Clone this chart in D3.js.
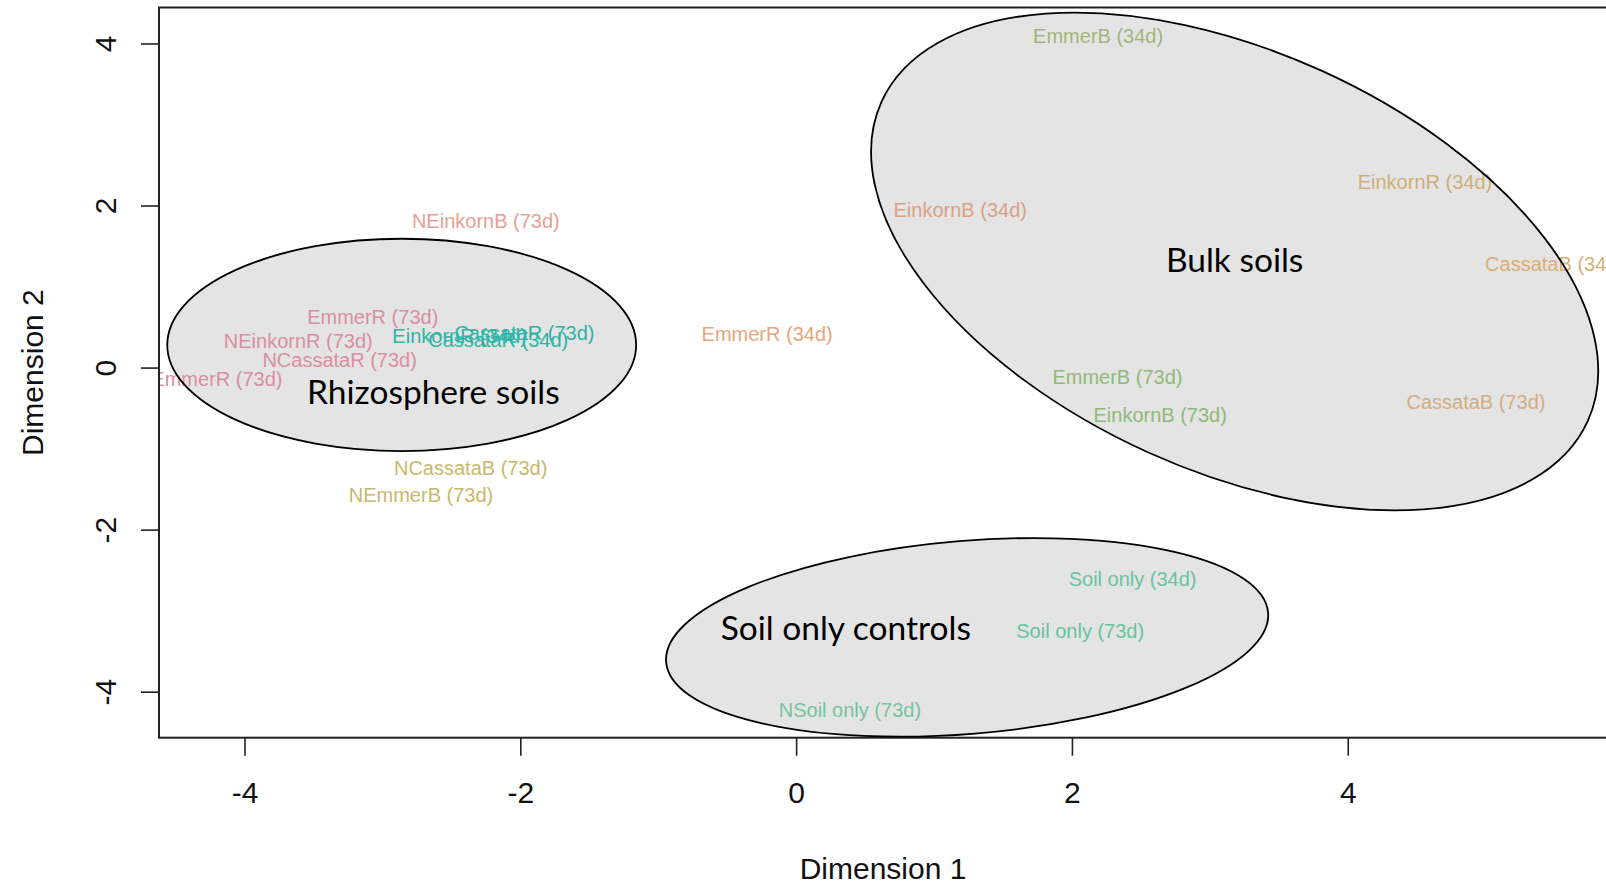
<!DOCTYPE html>
<html>
<head>
<meta charset="utf-8">
<script src="https://cdn.jsdelivr.net/npm/d3@7"></script>
<style>
  html, body { margin: 0; padding: 0; background: #ffffff; }
  svg { display: block; }
</style>
</head>
<body>
<svg id="chart" width="1606" height="886"></svg>
<script>
// MDS ordination of soil samples: sample labels and their coordinates
const sampleNames = [
  "NEinkornB (73d)", "EmmerR (73d)", "NEinkornR (73d)", "NCassataR (73d)", "EmmerR (73d) ",
  "EinkornR (34d)", "CassataR (73d)", "CassataR (34d)", "NCassataB (73d)", "NEmmerB (73d)",
  "EmmerR (34d)", "EinkornB (34d)", "EmmerB (34d)", "EinkornR (34d) ", "CassataB (34d)",
  "EmmerB (73d)", "EinkornB (73d)", "CassataB (73d)", "Soil only (34d)", "Soil only (73d)",
  "NSoil only (73d)"
];
const dim1 = [
  -2.25, -3.07, -3.61, -3.31, -4.20,
  -2.44, -1.97, -2.16, -2.36, -2.72,
  -0.21, 1.19, 2.19, 4.56, 5.50,
  2.33, 2.64, 4.93, 2.44, 2.06,
  0.39
];
const dim2 = [
  1.81, 0.63, 0.33, 0.10, -0.14,
  0.39, 0.43, 0.34, -1.24, -1.57,
  0.42, 1.95, 4.10, 2.29, 1.28,
  -0.11, -0.58, -0.42, -2.61, -3.25,
  -4.22
];
// treatment group of each sample (drives label colour)
const sampleGroups = [
  "NB-Einkorn", "R73", "R73", "R73", "R73",
  "R34", "R34", "R34", "NB", "NB",
  "R34-Emmer", "B34-Einkorn", "B34-Emmer", "R34-Einkorn", "B34-Cassata",
  "B73", "B73", "B73-Cassata", "Soil", "Soil",
  "NSoil"
];

// Axis ticks
const xTicks = [-4, -2, 0, 2, 4];
const yTicks = [-4, -2, 0, 2, 4];

// Cluster outlines (centre in plot units, semi-axes in Dimension 1 units, tilt in degrees)
const clusterNames = ["Rhizosphere soils", "Bulk soils", "Soil only controls"];
const clusterCx = [-2.86, 3.18, 1.24];
const clusterCy = [0.28, 1.31, -3.33];
const clusterA = [1.70, 2.81, 2.19];
const clusterB = [0.77, 1.52, 0.70];
const clusterTilt = [0, 24.3, -4.7];
const clusterLabelX = [-2.63, 3.18, 0.36];
const clusterLabelY = [-0.30, 1.32, -3.22];

const svg = d3.select("#chart");
const box = { left: 159, right: 1607, top: 7.5, bottom: 737.7 };

const x = d3.scaleLinear().domain([-4.62, 5.88]).range([box.left, box.right]);
const y = d3.scaleLinear().domain([-4.568, 4.444]).range([box.bottom, box.top]);
const unitPx = x(1) - x(0);

const groupColour = d3.scaleOrdinal()
  .domain(["NB-Einkorn", "R73", "R34", "NB", "R34-Emmer", "B34-Einkorn", "B34-Emmer",
           "R34-Einkorn", "B34-Cassata", "B73", "B73-Cassata", "Soil", "NSoil"])
  .range(["#e8a096", "#d98ea2", "#2fb4a6", "#c9b86c", "#e4a67c", "#dca086", "#a2b47a",
          "#d0ae78", "#d8b076", "#8fba78", "#d2ad86", "#68c3a0", "#76c49c"]);

svg.append("defs").append("clipPath").attr("id", "plotClip")
  .append("rect")
  .attr("x", box.left).attr("y", box.top)
  .attr("width", box.right - box.left).attr("height", box.bottom - box.top);

const clusters = clusterNames.map((name, i) => ({
  name, cx: clusterCx[i], cy: clusterCy[i], a: clusterA[i], b: clusterB[i],
  tilt: clusterTilt[i], lx: clusterLabelX[i], ly: clusterLabelY[i]
}));

// Rhizosphere ellipse vertical radius uses Dimension 2 units
function ellipseRy(d, i) {
  return i === 0 ? (y(0) - y(1.31)) : d.b * unitPx;
}

// Ellipse fills underneath the labels
svg.append("g").selectAll("ellipse").data(clusters).join("ellipse")
  .attr("cx", 0).attr("cy", 0)
  .attr("rx", d => d.a * unitPx)
  .attr("ry", (d, i) => ellipseRy(d, i))
  .attr("transform", d => `translate(${x(d.cx)},${y(d.cy)}) rotate(${d.tilt})`)
  .attr("fill", "#e4e4e4")
  .attr("stroke", "none");

// Axes
const xAxis = svg.append("g")
  .attr("transform", `translate(0,${box.bottom})`)
  .call(d3.axisBottom(x).tickValues(xTicks).tickSize(18).tickPadding(25.8).tickFormat(d => String(d)));
xAxis.select(".domain").remove();
xAxis.selectAll("line").attr("stroke", "#222").attr("stroke-width", 1.6);
xAxis.selectAll("text")
  .attr("font-family", "'Liberation Sans', Arial, sans-serif")
  .attr("font-size", 30).attr("fill", "#111");

const yAxis = svg.append("g")
  .attr("transform", `translate(${box.left},0)`)
  .call(d3.axisLeft(y).tickValues(yTicks).tickSize(18).tickFormat(d => String(d)));
yAxis.select(".domain").remove();
yAxis.selectAll("line").attr("stroke", "#222").attr("stroke-width", 1.6);
yAxis.selectAll("text")
  .attr("x", 0).attr("dy", 0)
  .attr("text-anchor", "middle")
  .attr("transform", "translate(-42.8,0) rotate(-90)")
  .attr("font-family", "'Liberation Sans', Arial, sans-serif")
  .attr("font-size", 30).attr("fill", "#111");

// Axis titles
svg.append("text")
  .attr("x", (box.left + box.right) / 2).attr("y", 879)
  .attr("text-anchor", "middle")
  .attr("font-family", "'Liberation Sans', Arial, sans-serif")
  .attr("font-size", 30).attr("fill", "#111")
  .text("Dimension 1");
svg.append("text")
  .attr("transform", `translate(42.7,${(box.top + box.bottom) / 2}) rotate(-90)`)
  .attr("text-anchor", "middle")
  .attr("font-family", "'Liberation Sans', Arial, sans-serif")
  .attr("font-size", 30).attr("fill", "#111")
  .text("Dimension 2");

// Sample labels, clipped to the plot region
const samples = sampleNames.map((name, i) => ({ name: name.trim(), d1: dim1[i], d2: dim2[i], group: sampleGroups[i] }));
svg.append("g").attr("clip-path", "url(#plotClip)")
  .selectAll("text").data(samples).join("text")
  .attr("x", d => x(d.d1)).attr("y", d => y(d.d2))
  .attr("dy", "0.36em")
  .attr("text-anchor", "middle")
  .attr("font-family", "'Liberation Sans', Arial, sans-serif")
  .attr("font-size", 20)
  .attr("fill", d => groupColour(d.group))
  .text(d => d.name);

// Plot frame
svg.append("rect")
  .attr("x", box.left).attr("y", box.top)
  .attr("width", box.right - box.left).attr("height", box.bottom - box.top)
  .attr("fill", "none").attr("stroke", "#222").attr("stroke-width", 2);

// Ellipse outlines drawn over the labels
svg.append("g").selectAll("ellipse").data(clusters).join("ellipse")
  .attr("cx", 0).attr("cy", 0)
  .attr("rx", d => d.a * unitPx)
  .attr("ry", (d, i) => ellipseRy(d, i))
  .attr("transform", d => `translate(${x(d.cx)},${y(d.cy)}) rotate(${d.tilt})`)
  .attr("fill", "none")
  .attr("stroke", "#000")
  .attr("stroke-width", 1.8);

// Cluster captions
svg.append("g").selectAll("text").data(clusters).join("text")
  .attr("x", d => x(d.lx)).attr("y", d => y(d.ly))
  .attr("dy", "0.35em")
  .attr("text-anchor", "middle")
  .attr("font-family", "Lato, 'Open Sans', sans-serif")
  .attr("font-size", 33.5)
  .attr("fill", "#000")
  .text(d => d.name);
</script>
</body>
</html>
